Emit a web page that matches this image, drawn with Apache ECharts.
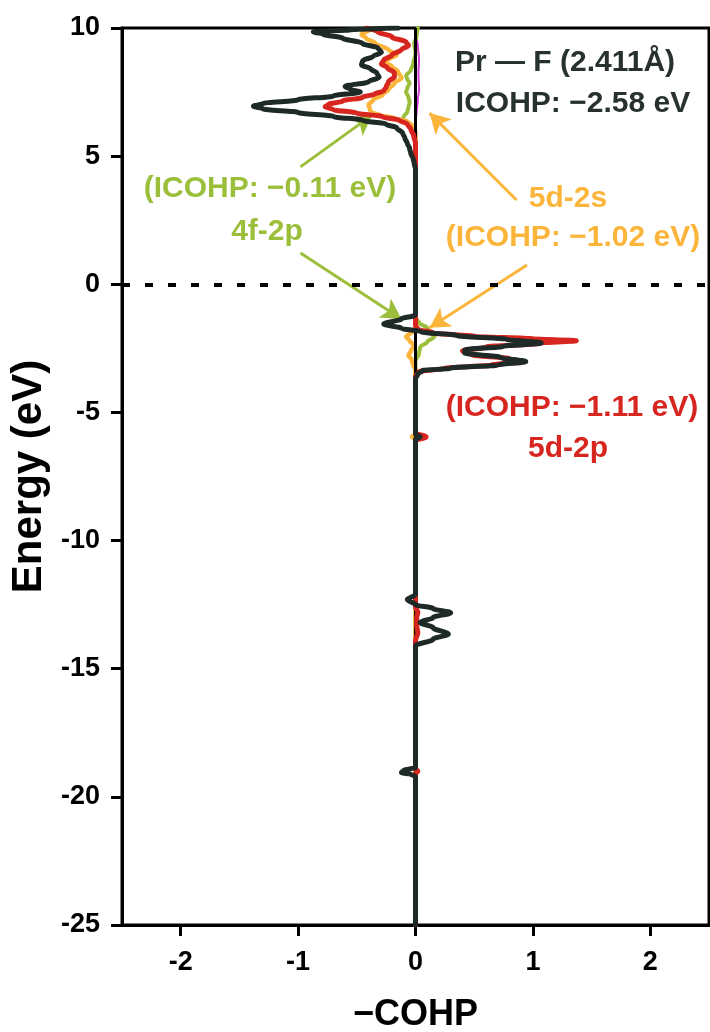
<!DOCTYPE html>
<html>
<head>
<meta charset="utf-8">
<script src="https://cdn.jsdelivr.net/npm/echarts@6/dist/echarts.min.js"></script>
<style>
  html, body { margin: 0; padding: 0; background: #fff; }
  #chart { width: 710px; height: 1032px; }
</style>
</head>
<body>
<div id="chart"></div>
<script>
// Projected COHP of the Pr–F bond: energy (eV) vs −COHP, one pair of arrays per orbital channel.

// total Pr–F
const energyTotal = [10.0, 9.93, 9.85, 9.75, 9.6, 9.4, 9.22, 9.05, 8.9, 8.72, 8.56, 8.4, 8.25, 8.08, 7.9, 7.72, 7.6, 7.5, 7.35, 7.2, 7.05, 6.95, 6.85, 6.7, 6.55, 6.4, 6.25, 6.1, 5.9, 5.7, 5.5, 5.3, 5.1, 4.9, 4.7, 4.5, -1.2, -1.35, -1.55, -1.72, -1.85, -2.0, -2.15, -2.29, -2.42, -2.56, -2.68, -2.85, -3.02, -3.15, -3.27, -3.37, -3.5, -3.7, -5.85, -5.95, -6.05, -12.1, -12.3, -12.5, -12.65, -12.82, -13.0, -13.2, -13.4, -13.65, -13.85, -14.1, -18.85, -18.97, -19.05, -19.12, -19.2, -25];
const cohpTotal = [-0.15, -0.55, -0.87, -0.78, -0.62, -0.45, -0.32, -0.29, -0.36, -0.45, -0.46, -0.38, -0.33, -0.31, -0.4, -0.6, -0.55, -0.47, -0.7, -1.0, -1.3, -1.38, -1.3, -1.0, -0.7, -0.45, -0.25, -0.16, -0.11, -0.09, -0.07, -0.05, -0.04, -0.02, -0.01, 0, 0, -0.12, -0.27, -0.12, 0.05, 0.35, 0.78, 1.07, 0.75, 0.42, 0.42, 0.72, 0.94, 0.7, 0.3, 0.06, 0.02, 0, 0, 0.04, 0, 0, -0.07, 0, 0.15, 0.3, 0.15, 0.04, 0.15, 0.28, 0.15, 0, 0, -0.1, -0.12, -0.04, 0, 0];

// Pr 5d – F 2p
const energyD2p = [10.0, 9.85, 9.65, 9.45, 9.32, 9.15, 8.95, 8.75, 8.6, 8.45, 8.25, 8.1, 7.9, 7.7, 7.55, 7.42, 7.3, 7.15, 7.02, 6.93, 6.82, 6.68, 6.54, 6.4, 6.25, 6.05, 5.8, 5.5, -1.6, -1.75, -1.9, -2.03, -2.13, -2.2, -2.3, -2.45, -2.6, -2.75, -2.9, -3.02, -3.15, -3.28, -3.4, -3.6, -5.8, -5.96, -6.1, -12.6, -12.8, -13.0, -13.3, -13.6, -13.9, -18.9, -19.0, -19.1, -25];
const cohpD2p = [-0.42, -0.32, -0.2, -0.08, -0.06, -0.12, -0.2, -0.27, -0.29, -0.24, -0.18, -0.18, -0.23, -0.25, -0.27, -0.35, -0.45, -0.62, -0.74, -0.77, -0.7, -0.5, -0.28, -0.14, -0.07, -0.04, -0.015, 0, 0, 0.02, 0.15, 0.5, 1.0, 1.37, 1.05, 0.6, 0.4, 0.48, 0.8, 0.92, 0.65, 0.25, 0.03, 0, 0, 0.09, 0, 0, 0.02, 0.01, 0.01, 0.02, 0, 0, 0.02, 0, 0];

// Pr 5d – F 2s
const energyD2s = [10.0, 9.9, 9.75, 9.6, 9.4, 9.15, 8.95, 8.8, 8.67, 8.5, 8.3, 8.05, 7.85, 7.6, 7.4, 7.2, 7.0, 6.85, 6.72, 6.6, 6.48, 6.35, 6.2, 6.0, 5.8, -1.7, -1.85, -2.05, -2.2, -2.4, -2.6, -2.78, -2.95, -3.15, -3.3, -5.85, -5.95, -6.05, -25];
const cohpD2s = [-0.28, -0.4, -0.46, -0.42, -0.34, -0.23, -0.16, -0.22, -0.28, -0.2, -0.15, -0.12, -0.18, -0.23, -0.28, -0.36, -0.4, -0.39, -0.38, -0.3, -0.18, -0.07, -0.03, -0.01, 0, 0, -0.03, -0.08, -0.05, -0.01, -0.04, -0.06, -0.03, -0.02, 0, 0, -0.03, 0, 0];

// Pr 4f – F 2p
const energyF2p = [10.0, 9.7, 9.4, 9.0, 8.6, 8.35, 8.15, 8.0, 7.85, 7.65, 7.5, 7.3, 7.1, 6.9, 6.72, 6.55, 6.45, 6.3, 6.15, 6.0, -1.3, -1.5, -1.7, -1.85, -2.05, -2.25, -2.45, -2.7, -3.0, -25];
const cohpF2p = [0.02, 0.01, -0.01, 0, -0.02, -0.04, -0.08, -0.07, -0.05, -0.07, -0.08, -0.06, -0.05, -0.06, -0.07, -0.1, -0.11, -0.07, -0.03, 0, 0, 0.03, 0.1, 0.12, 0.16, 0.1, 0.04, 0.03, 0, 0];

// remaining minor channel
const energyOther = [9.7, 9.3, 8.8, 8.2, 7.6, 7.2, 6.7, 6.4];
const cohpOther = [0, 0.02, 0.03, 0.025, 0.03, 0.02, 0.01, 0];

const xTicks = [-2, -1, 0, 1, 2];

const FONT = '"Liberation Sans", Arial, Helvetica, sans-serif';
const C_TOTAL = '#1d2a27';
const C_D2P = '#d7261f';
const C_D2S = '#fbb53a';
const C_F2P = '#9cbf3b';
const C_OTHER = '#d23fd2';
const C_TEXT = '#27322f';

function pairs(energy, cohp) {
  return energy.map((e, i) => [cohp[i], e]);
}

function curve(name, energy, cohp, color, width, extra) {
  return Object.assign({
    name: name,
    type: 'line',
    data: pairs(energy, cohp),
    showSymbol: false,
    smooth: 0.35,
    smoothMonotone: 'y',
    lineStyle: { color: color, width: width, cap: 'round', join: 'round' },
    itemStyle: { color: color },
    silent: true,
    animation: false
  }, extra || {});
}

function arrows(color, segs) {
  return {
    silent: true,
    animation: false,
    symbol: ['none', 'arrow'],
    symbolSize: [17, 20],
    label: { show: false },
    lineStyle: { color: color, width: 3, type: 'solid' },
    emphasis: { disabled: true },
    data: segs.map(s => [{ coord: s[0] }, { coord: s[1] }])
  };
}

function annot(text, x, y, color) {
  return {
    type: 'text', x: x, y: y, z: 100, silent: true,
    style: {
      text: text, fill: color, align: 'center', verticalAlign: 'middle',
      font: 'bold 30px ' + FONT
    }
  };
}

const chart = echarts.init(document.getElementById('chart'), null, { renderer: 'canvas' });

chart.setOption({
  animation: false,
  backgroundColor: '#fff',
  grid: {
    left: 122, right: 1, top: 28, bottom: 107,
    outerBoundsMode: 'none',
    containLabel: false,
    show: true, borderColor: '#000', borderWidth: 3, backgroundColor: 'transparent'
  },
  xAxis: {
    type: 'value', min: -2.5, max: 2.5,
    name: '\u2212COHP', nameLocation: 'middle', nameGap: 72,
    nameTextStyle: { fontFamily: FONT, fontWeight: 'bold', fontSize: 36, color: '#000' },
    axisLine: { show: true, onZero: false, lineStyle: { color: '#000', width: 3 } },
    axisTick: { show: true, length: 11, customValues: xTicks, lineStyle: { color: '#000', width: 3 } },
    axisLabel: { customValues: xTicks, margin: 24, fontFamily: FONT, fontWeight: 'bold', fontSize: 27, color: '#000' },
    splitLine: { show: false }
  },
  yAxis: {
    type: 'value', min: -25, max: 10, interval: 5,
    name: 'Energy (eV)', nameLocation: 'middle', nameGap: 72,
    nameTextStyle: { fontFamily: FONT, fontWeight: 'bold', fontSize: 42, color: '#000' },
    axisLine: { show: true, onZero: false, lineStyle: { color: '#000', width: 3 } },
    axisTick: { show: true, length: 11, lineStyle: { color: '#000', width: 3 } },
    axisLabel: { margin: 22, fontFamily: FONT, fontWeight: 'bold', fontSize: 27, color: '#000' },
    splitLine: { show: false }
  },
  series: [
    curve('other', energyOther, cohpOther, C_OTHER, 2, { z: 2 }),
    curve('4f-2p', energyF2p, cohpF2p, C_F2P, 4, {
      z: 3,
      markLine: arrows(C_F2P, [[[-0.98, 4.58], [-0.37, 6.6]], [[-0.98, 1.22], [-0.12, -1.35]]])
    }),
    curve('5d-2s', energyD2s, cohpD2s, C_D2S, 4.5, {
      z: 4,
      markLine: arrows(C_D2S, [[[0.86, 3.29], [0.12, 6.68]], [[0.95, 0.75], [0.12, -1.7]]])
    }),
    curve('5d-2p', energyD2p, cohpD2p, C_D2P, 5, { z: 5 }),
    curve('total', energyTotal, cohpTotal, C_TOTAL, 5, { z: 6 }),
    {
      name: 'reference lines',
      type: 'line',
      data: [],
      z: 10,
      silent: true,
      animation: false,
      markLine: {
        silent: true,
        animation: false,
        symbol: ['none', 'none'],
        label: { show: false },
        emphasis: { disabled: true },
        data: [
          { xAxis: 0, lineStyle: { color: '#000', width: 3, type: 'solid' } },
          { yAxis: 0, lineStyle: { color: '#000', width: 4, type: [8, 15] } }
        ]
      }
    }
  ],
  graphic: [
    annot('Pr \u2014 F (2.411\u00c5)', 565, 63, C_TEXT),
    annot('ICOHP: \u22122.58 eV', 573, 104, C_TEXT),
    annot('(ICOHP: \u22120.11 eV)', 270, 189, C_F2P),
    annot('4f-2p', 267, 232, C_F2P),
    annot('5d-2s', 568, 199, C_D2S),
    annot('(ICOHP: \u22121.02 eV)', 573, 238, C_D2S),
    annot('(ICOHP: \u22121.11 eV)', 572, 408, C_D2P),
    annot('5d-2p', 568, 449, C_D2P)
  ]
});
</script>
</body>
</html>
